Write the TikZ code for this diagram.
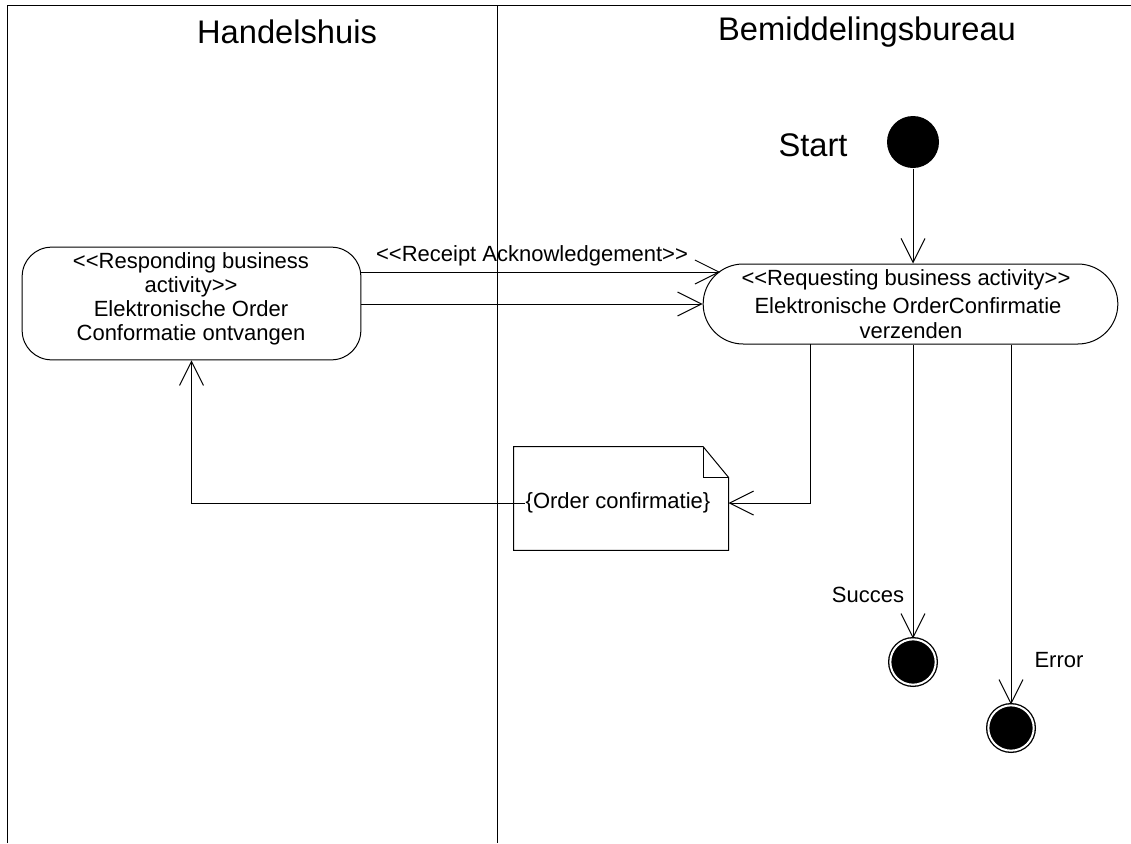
\documentclass[tikz,border=0pt]{standalone}
\usepackage{fontspec}
\setmainfont{Liberation Sans}
\usetikzlibrary{arrows.meta,shapes.misc,calc}
\begin{document}
\begin{tikzpicture}[x=0.75pt,y=-0.75pt,line width=0.75pt,
  title/.style={font=\fontsize{24.5}{28}\selectfont, inner sep=0pt},
  txt/.style={font=\fontsize{16.5}{17.25}\selectfont, inner sep=0pt, align=center},
  ln/.style={txt, anchor=base},
  arr/.style={-{Straight Barb[length=18pt,width=18pt,line width=0.75pt]}},
  actR/.style={draw, rounded rectangle, minimum width=311pt, minimum height=60pt, inner sep=0pt},
  actL/.style={draw, rectangle, rounded corners=22pt, minimum width=254pt, minimum height=84.5pt, inner sep=0pt},
  initial/.style={circle, fill=black, minimum size=39pt, inner sep=0pt},
  final/.style={circle, draw=black, fill=black, double=white, double distance=1.5pt, line width=1pt, minimum size=34pt, inner sep=0pt},
  notebox/.style={rectangle, minimum width=160.5pt, minimum height=77pt, inner sep=0pt}]
\useasboundingbox (0,0) rectangle (1131,843);
% swimlanes
\draw (7,843) -- (7,5) -- (1131,5);
\draw (497,5) -- (497,843);
\node[title] (laneL) at (287,32) {Handelshuis};
\node[title] (laneR) at (867,32) {Bemiddelingsbureau};
% start
\node[title] (startlbl) at (813,145) {Start};
\node[initial] (start) at (913,142) {};
% activities
\node[actL] (resp) at (191.5,303.5) {};
\node[ln] (resp1) at (191,268) {<{}<Responding business};
\node[ln] (resp2) at (191,292) {activity>{}>};
\node[ln] (resp3) at (191,316) {Elektronische Order};
\node[ln] (resp4) at (191,340) {Conformatie ontvangen};
\node[actR] (req) at (910.5,304) {};
\node[ln] (req1) at (906,285) {<{}<Requesting business activity>{}>};
\node[ln] (req2) at (908,313) {Elektronische OrderConfirmatie};
\node[ln] (req3) at (911,338) {verzenden};
% note
\node[notebox] (note) at (621,498.5) {};
\draw (note.south west) -- (note.north west) -- ([xshift=-19pt]note.north east) -- ([yshift=-23pt]note.north east) -- (note.south east) -- cycle;
\draw ([xshift=-19pt]note.north east) |- ([yshift=-23pt]note.north east);
\node[txt] (notetxt) at (618,503) {\{Order confirmatie\}};
% final states
\node[final] (succ) at (913,662) {};
\node[final] (err) at (1011,728) {};
\node[txt] (succlbl) at (868,595) {Succes};
\node[txt] (errlbl) at (1059,660) {Error};
% connectors
\coordinate (rtop) at (720,272);
\coordinate (q1) at (810,344);
\draw[arr] (start) -- (start |- req.north);
\draw[arr] (resp.east |- rtop) -- (rtop);
\draw[arr] (resp.east |- req.west) -- (req.west);
\node[txt] (rcpt) at (532,256) {<{}<Receipt Acknowledgement>{}>};
\draw[arr] (q1) |- (note.east |- notetxt);
\draw[arr] (notetxt.west) -| (resp.south);
\draw[arr] (req.south -| succ) -- (succ);
\draw[arr] (req.south -| err) -- (err);
\end{tikzpicture}
\end{document}
